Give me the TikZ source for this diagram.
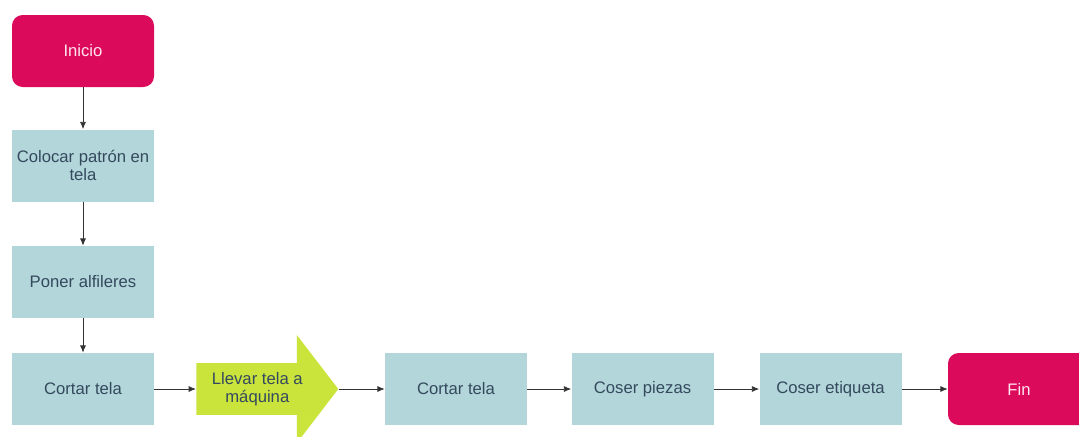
\documentclass[tikz,border=0pt]{standalone}
\usepackage{fontspec}
\setmainfont{Liberation Sans}
\usetikzlibrary{arrows.meta,positioning,shapes.arrows}
\definecolor{termred}{HTML}{DC0A5A}
\definecolor{termtext}{HTML}{FFE6F0}
\definecolor{boxblue}{HTML}{B2D6D9}
\definecolor{boxtext}{HTML}{34495E}
\definecolor{limeg}{HTML}{CBE43C}
\definecolor{linegray}{HTML}{333333}

\begin{document}
\begin{tikzpicture}[x=0.75pt,y=-0.75pt,>={Latex[length=5.5pt,width=4.5pt]},
  proc/.style={fill=boxblue,text=boxtext,minimum width=106.5pt,minimum height=54pt,
    align=center,inner sep=2pt,font=\fontsize{12.5}{13.5}\selectfont},
  term/.style={proc,fill=termred,text=termtext,rounded corners=8pt},
  bigarrow/.style={single arrow,fill=limeg,text=boxtext,align=center,inner sep=2pt,
    minimum height=106.5pt,minimum width=81pt,single arrow head extend=16pt,
    single arrow tip angle=105,font=\fontsize{12.5}{13.5}\selectfont},
  flow/.style={->,draw=linegray,line width=0.6pt}]
\clip (0,0) rectangle (1079,436);
% left column
\node[term] (inicio) at (83,51) {Inicio};
\node[proc] (colocar) at (83,165.5) {Colocar patrón en\\tela};
\node[proc] (poner) at (83,282) {Poner alfileres};
\node[proc] (cortar) at (83,389) {Cortar tela};
% bottom row
\node[bigarrow,anchor=tail] (llevar) at (196,389) {Llevar tela a\\máquina};
\node[proc] (cortar2) at (456,389) {Cortar tela};
\node[proc] (piezas) at (642.5,389) {Coser piezas};
\node[proc] (etiqueta) at (830.5,389) {Coser etiqueta};
\node[term] (fin) at (1019,389) {Fin};
% connectors
\draw[flow] (inicio) -- (colocar);
\draw[flow] (colocar) -- (poner);
\draw[flow] (poner) -- (cortar);
\draw[flow] (cortar) -- (llevar.tail);
\draw[flow] (llevar.tip) -- (cortar2);
\draw[flow] (cortar2) -- (piezas);
\draw[flow] (piezas) -- (etiqueta);
\draw[flow] (etiqueta) -- (fin);
\end{tikzpicture}
\end{document}
